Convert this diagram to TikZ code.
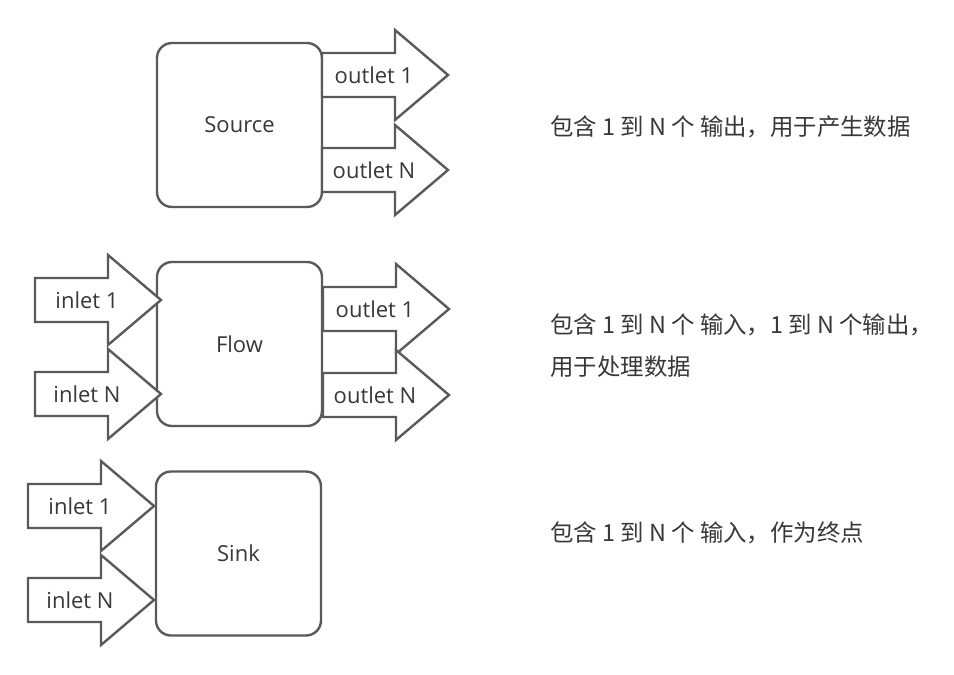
\documentclass[tikz,border=0pt]{standalone}
\usepackage{fontspec}
\setmainfont{Open Sans}
\newfontfamily\cjk{Noto Sans CJK SC}
\usepackage{tikz}
\usetikzlibrary{positioning}

\definecolor{linegray}{HTML}{5A5A5A}
\definecolor{textgray}{HTML}{383838}

\tikzset{
  block/.style={draw=linegray,line width=1.2pt,rounded corners=7.5pt,fill=white,
    minimum width=82.5pt,minimum height=82pt,text=textgray,font=\fontsize{11}{13}\selectfont},
  fatarrow/.style={draw=linegray,line width=1.2pt,fill=white,line join=miter},
  portlbl/.style={text=textgray,font=\fontsize{11}{13}\selectfont,inner sep=0pt},
  note/.style={text=textgray,font=\cjk\fontsize{11.7}{21}\selectfont,anchor=west,align=left,inner sep=0pt}
}

\begin{document}
\begin{tikzpicture}[x=0.5pt,y=-0.5pt]
  \useasboundingbox[fill=white] (0,0) rectangle (954,675);
  % blocchi
  \node[block] (source) at (239.5,125) {Source};
  \node[block] (flow) at (239.5,344) {Flow};
  \node[block] (sink) at (238.5,553.5) {Sink};
  % frecce larghe: coda x / centro y / testo / nome
  \foreach \tx/\cy/\lab/\nm in {322/75/outlet 1/srcout1,322/170/outlet N/srcoutn,
      35/300/inlet 1/flowin1,35/394/inlet N/flowinn,
      323/309/outlet 1/flowout1,323/395/outlet N/flowoutn,
      28/506/inlet 1/sinkin1,28/600/inlet N/sinkinn}{
    \draw[fatarrow] (\tx,\cy-22) -- (\tx+73,\cy-22) -- (\tx+73,\cy-45) -- (\tx+126,\cy)
      -- (\tx+73,\cy+45) -- (\tx+73,\cy+22) -- (\tx,\cy+22) -- cycle;
    \node[portlbl] (\nm) at (\tx+52,\cy) {\lab};
  }
  % descrizioni
  \node[note] (srcnote) at (550,127) {包含 1 到 N 个 输出，用于产生数据};
  \node[note] (flownote) at (550,346) {包含 1 到 N 个 输入，1 到 N 个输出，\\用于处理数据};
  \node[note] (sinknote) at (550,533) {包含 1 到 N 个 输入，作为终点};
\end{tikzpicture}
\end{document}
